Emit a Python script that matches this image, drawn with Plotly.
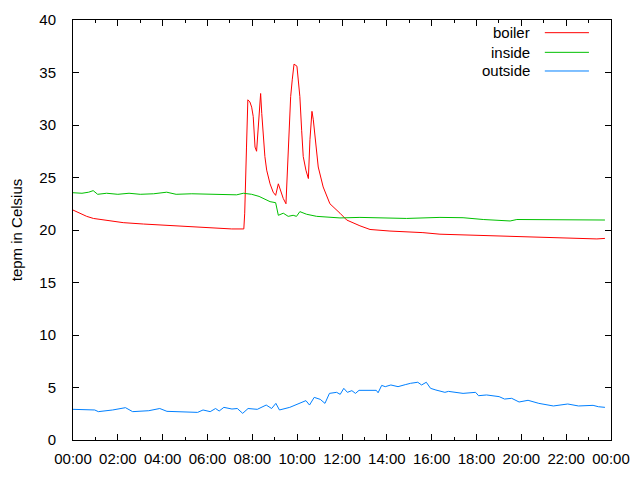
import plotly.graph_objects as go

# hours since midnight and temperatures (Celsius)
boiler_h = [0, 0.31, 0.61, 0.91, 1.2, 1.65, 2.24, 3.14, 3.88, 4.77, 5.52, 6.41, 7.08, 7.62,
            7.66, 7.74, 7.80, 7.89, 7.97, 8.04, 8.12, 8.19, 8.28, 8.37, 8.42, 8.49, 8.56, 8.64,
            8.79, 8.93, 9.04, 9.16, 9.23, 9.38, 9.5, 9.6, 9.71, 9.78, 9.86, 9.99, 10.05, 10.12,
            10.2, 10.27, 10.39, 10.5, 10.57, 10.66, 10.72, 10.84, 10.94, 11.16, 11.46, 11.91,
            12.21, 12.8, 13.25, 14.14, 15.61, 16.37, 17.84, 18.73, 20.25, 21.59, 23.37, 23.73]
boiler_t = [21.9, 21.6, 21.3, 21.1, 21.0, 20.86, 20.7, 20.57, 20.48, 20.38, 20.29, 20.19, 20.1, 20.1,
            21.6, 27.9, 32.4, 32.2, 31.7, 30.8, 27.9, 27.5, 30.5, 33.0, 31.1, 28.6, 27.0, 25.7,
            24.4, 23.6, 23.3, 24.4, 23.97, 23.0, 22.5, 27.9, 32.7, 34.3, 35.8, 35.6, 34.3, 32.7,
            29.5, 27.0, 25.7, 24.9, 28.6, 31.3, 30.5, 27.9, 26.0, 24.1, 22.5, 21.6,
            20.95, 20.4, 20.05, 19.9, 19.75, 19.6, 19.5, 19.4, 19.35, 19.25, 19.15, 19.2]

inside_h = [0, 0.4, 0.7, 0.9, 1.1, 1.5, 2.0, 2.5, 3.0, 3.6, 4.18, 4.6, 5.3, 6.0, 6.7, 7.3, 7.6,
            7.97, 8.3, 8.49, 8.79, 9.04, 9.16, 9.38, 9.6, 9.82, 9.97, 10.12, 10.42, 10.87, 11.46,
            11.91, 12.8, 13.4, 14.88, 16.37, 17.4, 18.3, 19.5, 19.8, 20.83, 21.87, 22.6, 23.73]
inside_t = [23.55, 23.5, 23.6, 23.75, 23.4, 23.5, 23.4, 23.5, 23.4, 23.45, 23.6, 23.4, 23.45, 23.4,
            23.4, 23.35, 23.5, 23.4, 23.2, 23.0, 22.7, 22.6, 21.4, 21.6, 21.3, 21.4, 21.3, 21.75,
            21.5, 21.3, 21.2, 21.15, 21.2, 21.17, 21.1, 21.2, 21.17, 21.0, 20.86, 21.0, 21.0,
            20.95, 21.0, 20.95]

outside_h = [0, 0.97, 1.13, 1.77, 2.34, 2.66, 3.38, 3.87, 4.19, 4.99, 5.56, 5.80, 6.12, 6.36,
             6.52, 6.73, 7.09, 7.33, 7.57, 7.81, 8.22, 8.62, 8.86, 9.05, 9.21, 9.67, 10.07, 10.39,
             10.55, 10.76, 11.03, 11.24, 11.44, 11.76, 11.92, 12.08, 12.24, 12.44, 12.60, 12.76,
             13.53, 13.61, 13.77, 13.93, 14.18, 14.5, 14.82, 15.06, 15.38, 15.55, 15.76, 15.95,
             16.19, 16.59, 16.75, 17.40, 17.96, 18.09, 18.45, 19.01, 19.25, 19.57, 19.90, 20.30,
             20.78, 21.43, 22.07, 22.55, 23.2, 23.44, 23.73]
outside_t = [2.92, 2.86, 2.7, 2.86, 3.08, 2.7, 2.79, 3.0, 2.73, 2.67, 2.63, 2.86, 2.7, 3.0,
             2.76, 3.11, 2.95, 3.0, 2.54, 3.0, 2.92, 3.33, 3.0, 3.49, 2.86, 3.11, 3.49, 3.75,
             3.33, 4.06, 3.87, 3.49, 4.44, 4.54, 4.35, 4.92, 4.54, 4.7, 4.44, 4.73,
             4.73, 4.5, 5.2, 5.08, 5.24, 5.08, 5.27, 5.4, 5.5, 5.24, 5.5, 4.92,
             4.76, 4.54, 4.63, 4.44, 4.54, 4.22, 4.29, 4.13, 3.9, 3.97, 3.62, 3.78,
             3.49, 3.24, 3.43, 3.24, 3.3, 3.17, 3.11]

tick_hours = list(range(0, 25, 2))
tick_labels = ["%02d:00" % (h % 24) for h in tick_hours]

series = [("boiler", boiler_h, boiler_t, "#ff0000"),
          ("inside", inside_h, inside_t, "#00c000"),
          ("outside", outside_h, outside_t, "#0080ff")]

FONT = "Liberation Sans"

fig = go.Figure()
for name, h, t, col in series:
    fig.add_trace(go.Scatter(x=h, y=t, mode="lines", name=name,
                             line=dict(color=col, width=1), showlegend=False))

# gnuplot-style key: text right-aligned, line sample to the right
key_y = [0.9698, 0.923, 0.8786]
for (name, h, t, col), ky in zip(series, key_y):
    fig.add_annotation(x=0.853, y=ky, xref="paper", yref="paper", text=name,
                       showarrow=False, xanchor="right", yanchor="middle",
                       font=dict(family=FONT, size=15, color="black"))
    fig.add_shape(type="line", xref="paper", yref="paper",
                  x0=0.877, x1=0.959, y0=ky, y1=ky, line=dict(color=col, width=1))

axis_common = dict(showline=True, linecolor="black", linewidth=1, mirror="ticks",
                   ticks="inside", tickcolor="black", showgrid=False, zeroline=False,
                   automargin=False,
                   tickfont=dict(family=FONT, size=15, color="black"))

fig.update_xaxes(range=[0, 24], tickvals=tick_hours, ticktext=tick_labels, ticklen=6,
                 ticklabelstandoff=5,
                 minor=dict(dtick=1, ticks="inside", ticklen=3, tickcolor="black"),
                 **axis_common)
fig.update_yaxes(range=[0, 40], dtick=5, ticklen=6, ticklabelstandoff=13,
                 title=dict(text="tepm in Celsius", standoff=27,
                            font=dict(family=FONT, size=15, color="black")),
                 **axis_common)

# page body adds an 8px offset, margins compensate for it
fig.update_layout(width=640, height=480, margin=dict(l=65, r=37, t=12, b=48),
                  plot_bgcolor="white", paper_bgcolor="white",
                  font=dict(family=FONT, size=15, color="black"))

fig.write_html("out.html")
